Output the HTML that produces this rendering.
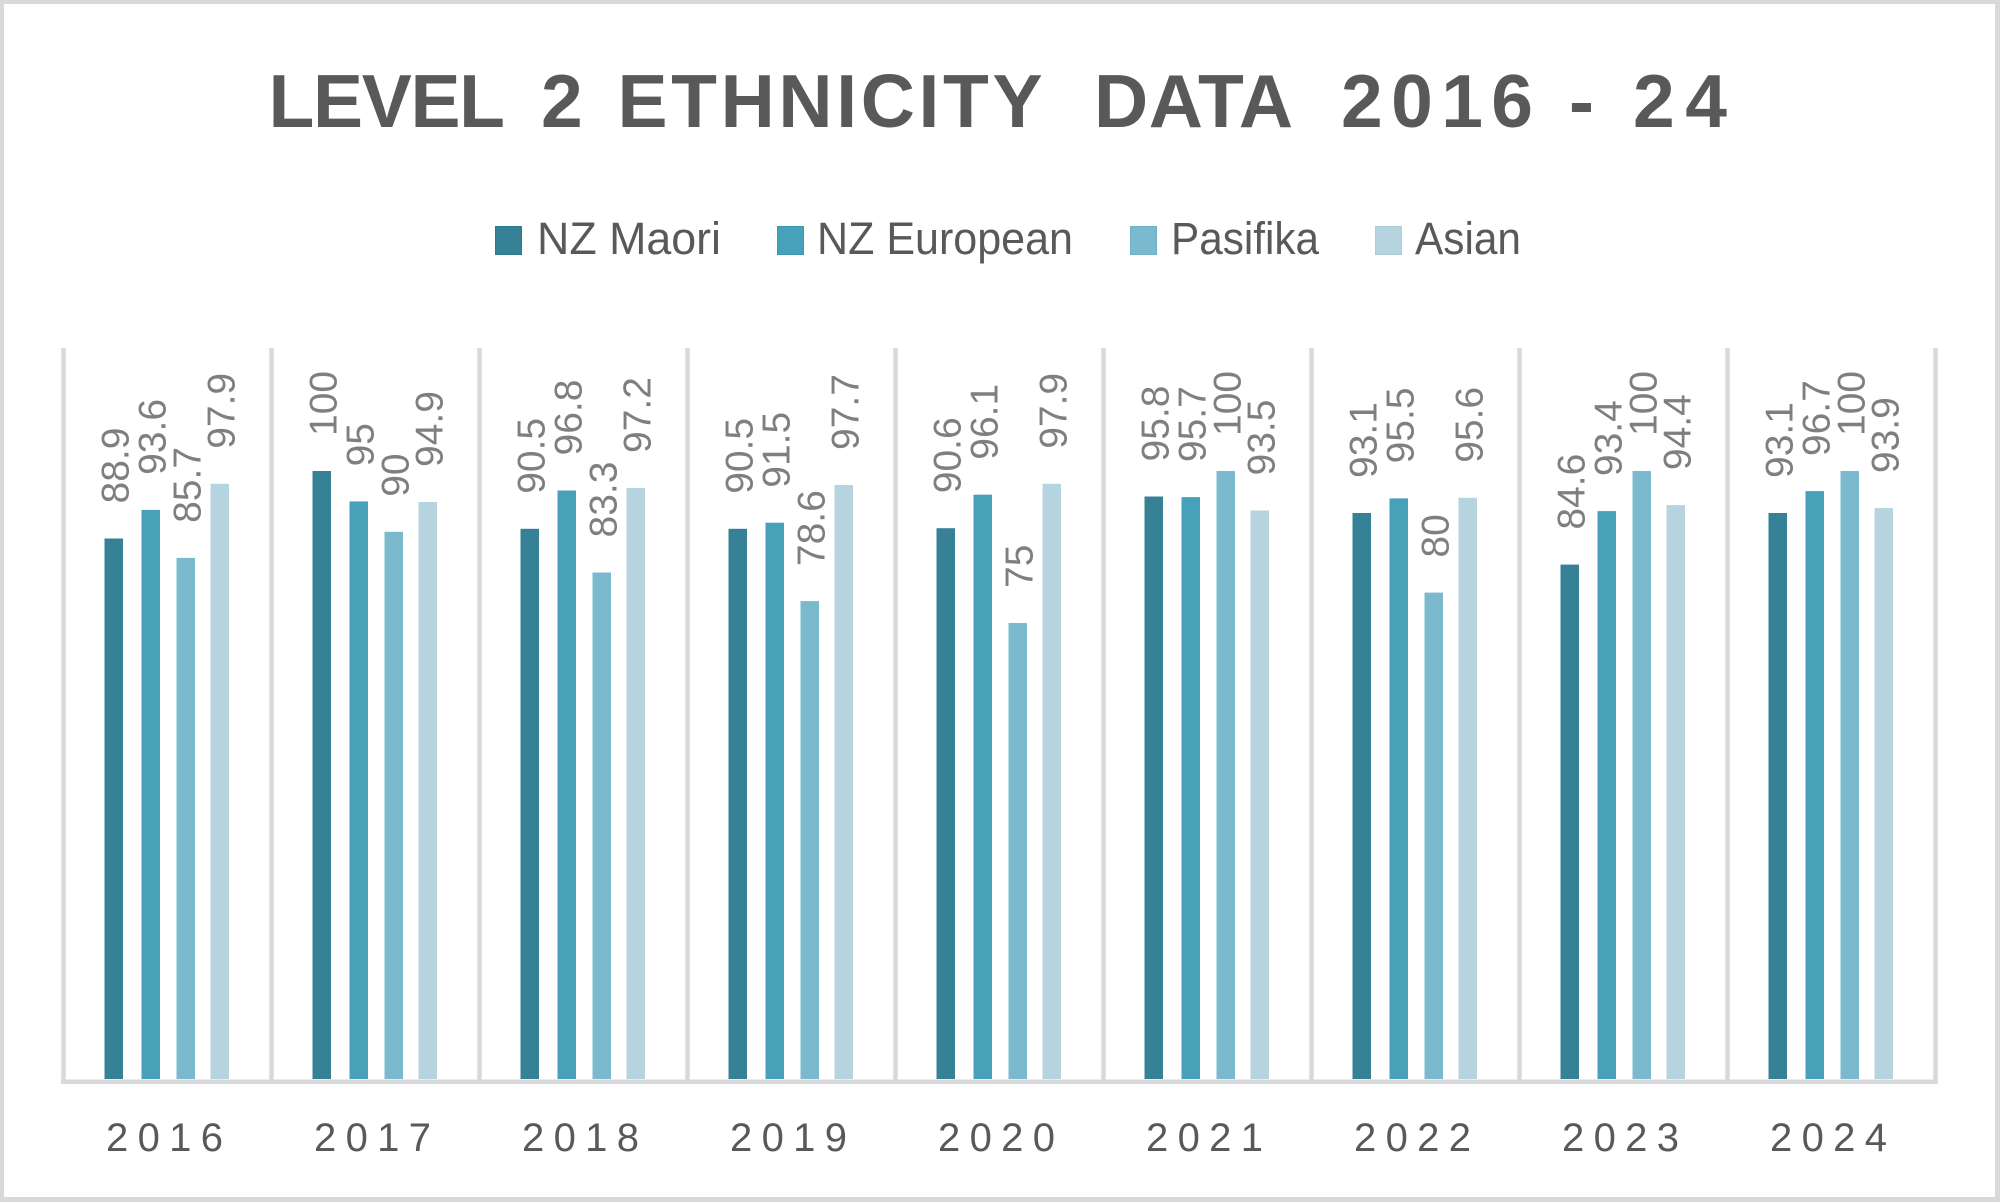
<!DOCTYPE html>
<html><head><meta charset="utf-8"><style>
html,body{margin:0;padding:0;background:#fff;}
svg{display:block;}
</style></head><body>
<svg width="2000" height="1202" viewBox="0 0 2000 1202" xmlns="http://www.w3.org/2000/svg">
<rect x="0" y="0" width="2000" height="1202" fill="#d9d9d9"/>
<rect x="4" y="4" width="1991" height="1193" fill="#ffffff"/>

<!-- Title -->
<g font-family="Liberation Sans, Arial, sans-serif" font-weight="bold" font-size="75" fill="#595959">
<text x="268.5" y="127" textLength="236.5" lengthAdjust="spacing">LEVEL</text>
<text x="541" y="127">2</text>
<text x="617.5" y="127" textLength="425" lengthAdjust="spacing">ETHNICITY</text>
<text x="1094" y="127" textLength="199" lengthAdjust="spacing">DATA</text>
<text x="1341" y="127" textLength="192" lengthAdjust="spacing">2016</text>
<text x="1569" y="127">-</text>
<text x="1633" y="127" textLength="94" lengthAdjust="spacing">24</text>
</g>

<!-- Legend -->
<g font-family="Liberation Sans, Arial, sans-serif" font-size="45" fill="#595959">
<rect x="495.5" y="226.5" width="26" height="28" fill="#378197" stroke="#2a7a90" stroke-width="1"/>
<text x="537" y="254" textLength="184" lengthAdjust="spacingAndGlyphs">NZ Maori</text>
<rect x="777.5" y="226.5" width="26" height="28" fill="#46a1b9" stroke="#3a98b1" stroke-width="1"/>
<text x="817" y="254" textLength="256" lengthAdjust="spacingAndGlyphs">NZ European</text>
<rect x="1130.5" y="226.5" width="26" height="28" fill="#7ab9ce" stroke="#6fb1c8" stroke-width="1"/>
<text x="1171" y="254" textLength="148" lengthAdjust="spacingAndGlyphs">Pasifika</text>
<rect x="1375.5" y="226.5" width="26" height="28" fill="#b5d4df" stroke="#a9cdd9" stroke-width="1"/>
<text x="1415" y="254" textLength="106" lengthAdjust="spacingAndGlyphs">Asian</text>
</g>

<!-- Separators -->
<g fill="#d9d9d9">
<rect x="61.25" y="348" width="4.5" height="736"/>
<rect x="269.25" y="348" width="4.5" height="736"/>
<rect x="477.25" y="348" width="4.5" height="736"/>
<rect x="685.25" y="348" width="4.5" height="736"/>
<rect x="893.25" y="348" width="4.5" height="736"/>
<rect x="1101.25" y="348" width="4.5" height="736"/>
<rect x="1309.25" y="348" width="4.5" height="736"/>
<rect x="1517.25" y="348" width="4.5" height="736"/>
<rect x="1725.25" y="348" width="4.5" height="736"/>
<rect x="1933.25" y="348" width="4.5" height="736"/>
<rect x="61" y="1079.5" width="1877" height="4.5"/>
</g>

<!-- Bars and labels per category -->
<g font-family="Liberation Sans, Arial, sans-serif" font-size="39" fill="#7f7f7f">

<g transform="translate(63.5,0)">
<rect x="41" y="538.5" width="18.5" height="540.5" fill="#378197"/>
<rect x="78" y="509.9" width="18.5" height="569.1" fill="#46a1b9"/>
<rect x="113" y="557.9" width="18.5" height="521.1" fill="#7ab9ce"/>
<rect x="147" y="483.8" width="18.5" height="595.2" fill="#b5d4df"/>
<text transform="translate(64.75,503.5) rotate(-90)">88.9</text>
<text transform="translate(101.75,474.9) rotate(-90)">93.6</text>
<text transform="translate(136.75,522.9) rotate(-90)">85.7</text>
<text transform="translate(170.75,448.8) rotate(-90)">97.9</text>
</g>

<g transform="translate(271.5,0)">
<rect x="41" y="471" width="18.5" height="608" fill="#378197"/>
<rect x="78" y="501.4" width="18.5" height="577.6" fill="#46a1b9"/>
<rect x="113" y="531.8" width="18.5" height="547.2" fill="#7ab9ce"/>
<rect x="147" y="502" width="18.5" height="577" fill="#b5d4df"/>
<text transform="translate(64.75,436) rotate(-90)">100</text>
<text transform="translate(101.75,466.4) rotate(-90)">95</text>
<text transform="translate(136.75,496.8) rotate(-90)">90</text>
<text transform="translate(170.75,467) rotate(-90)">94.9</text>
</g>

<g transform="translate(479.5,0)">
<rect x="41" y="528.8" width="18.5" height="550.2" fill="#378197"/>
<rect x="78" y="490.5" width="18.5" height="588.5" fill="#46a1b9"/>
<rect x="113" y="572.5" width="18.5" height="506.5" fill="#7ab9ce"/>
<rect x="147" y="488" width="18.5" height="591" fill="#b5d4df"/>
<text transform="translate(64.75,493.8) rotate(-90)">90.5</text>
<text transform="translate(101.75,455.5) rotate(-90)">96.8</text>
<text transform="translate(136.75,537.5) rotate(-90)">83.3</text>
<text transform="translate(170.75,453) rotate(-90)">97.2</text>
</g>

<g transform="translate(687.5,0)">
<rect x="41" y="528.8" width="18.5" height="550.2" fill="#378197"/>
<rect x="78" y="522.7" width="18.5" height="556.3" fill="#46a1b9"/>
<rect x="113" y="601.1" width="18.5" height="477.9" fill="#7ab9ce"/>
<rect x="147" y="485" width="18.5" height="594" fill="#b5d4df"/>
<text transform="translate(64.75,493.8) rotate(-90)">90.5</text>
<text transform="translate(101.75,487.7) rotate(-90)">91.5</text>
<text transform="translate(136.75,566.1) rotate(-90)">78.6</text>
<text transform="translate(170.75,450) rotate(-90)">97.7</text>
</g>

<g transform="translate(895.5,0)">
<rect x="41" y="528.2" width="18.5" height="550.8" fill="#378197"/>
<rect x="78" y="494.7" width="18.5" height="584.3" fill="#46a1b9"/>
<rect x="113" y="623" width="18.5" height="456" fill="#7ab9ce"/>
<rect x="147" y="483.8" width="18.5" height="595.2" fill="#b5d4df"/>
<text transform="translate(64.75,493.2) rotate(-90)">90.6</text>
<text transform="translate(101.75,459.7) rotate(-90)">96.1</text>
<text transform="translate(136.75,588) rotate(-90)">75</text>
<text transform="translate(170.75,448.8) rotate(-90)">97.9</text>
</g>

<g transform="translate(1103.5,0)">
<rect x="41" y="496.5" width="18.5" height="582.5" fill="#378197"/>
<rect x="78" y="497.1" width="18.5" height="581.9" fill="#46a1b9"/>
<rect x="113" y="471" width="18.5" height="608" fill="#7ab9ce"/>
<rect x="147" y="510.5" width="18.5" height="568.5" fill="#b5d4df"/>
<text transform="translate(64.75,461.5) rotate(-90)">95.8</text>
<text transform="translate(101.75,462.1) rotate(-90)">95.7</text>
<text transform="translate(136.75,436) rotate(-90)">100</text>
<text transform="translate(170.75,475.5) rotate(-90)">93.5</text>
</g>

<g transform="translate(1311.5,0)">
<rect x="41" y="513" width="18.5" height="566" fill="#378197"/>
<rect x="78" y="498.4" width="18.5" height="580.6" fill="#46a1b9"/>
<rect x="113" y="592.6" width="18.5" height="486.4" fill="#7ab9ce"/>
<rect x="147" y="497.8" width="18.5" height="581.2" fill="#b5d4df"/>
<text transform="translate(64.75,478) rotate(-90)">93.1</text>
<text transform="translate(101.75,463.4) rotate(-90)">95.5</text>
<text transform="translate(136.75,557.6) rotate(-90)">80</text>
<text transform="translate(170.75,462.8) rotate(-90)">95.6</text>
</g>

<g transform="translate(1519.5,0)">
<rect x="41" y="564.6" width="18.5" height="514.4" fill="#378197"/>
<rect x="78" y="511.1" width="18.5" height="567.9" fill="#46a1b9"/>
<rect x="113" y="471" width="18.5" height="608" fill="#7ab9ce"/>
<rect x="147" y="505.1" width="18.5" height="573.9" fill="#b5d4df"/>
<text transform="translate(64.75,529.6) rotate(-90)">84.6</text>
<text transform="translate(101.75,476.1) rotate(-90)">93.4</text>
<text transform="translate(136.75,436) rotate(-90)">100</text>
<text transform="translate(170.75,470.1) rotate(-90)">94.4</text>
</g>

<g transform="translate(1727.5,0)">
<rect x="41" y="513" width="18.5" height="566" fill="#378197"/>
<rect x="78" y="491.1" width="18.5" height="587.9" fill="#46a1b9"/>
<rect x="113" y="471" width="18.5" height="608" fill="#7ab9ce"/>
<rect x="147" y="508.1" width="18.5" height="570.9" fill="#b5d4df"/>
<text transform="translate(64.75,478) rotate(-90)">93.1</text>
<text transform="translate(101.75,456.1) rotate(-90)">96.7</text>
<text transform="translate(136.75,436) rotate(-90)">100</text>
<text transform="translate(170.75,473.1) rotate(-90)">93.9</text>
</g>
</g>

<!-- Year labels -->
<g font-family="Liberation Sans, Arial, sans-serif" font-size="40" fill="#595959">
<text x="106" y="1151" textLength="117" lengthAdjust="spacing">2016</text>
<text x="314" y="1151" textLength="117" lengthAdjust="spacing">2017</text>
<text x="522" y="1151" textLength="117" lengthAdjust="spacing">2018</text>
<text x="730" y="1151" textLength="117" lengthAdjust="spacing">2019</text>
<text x="938" y="1151" textLength="117" lengthAdjust="spacing">2020</text>
<text x="1146" y="1151" textLength="117" lengthAdjust="spacing">2021</text>
<text x="1354" y="1151" textLength="117" lengthAdjust="spacing">2022</text>
<text x="1562" y="1151" textLength="117" lengthAdjust="spacing">2023</text>
<text x="1770" y="1151" textLength="117" lengthAdjust="spacing">2024</text>
</g>
</svg>
</body></html>
